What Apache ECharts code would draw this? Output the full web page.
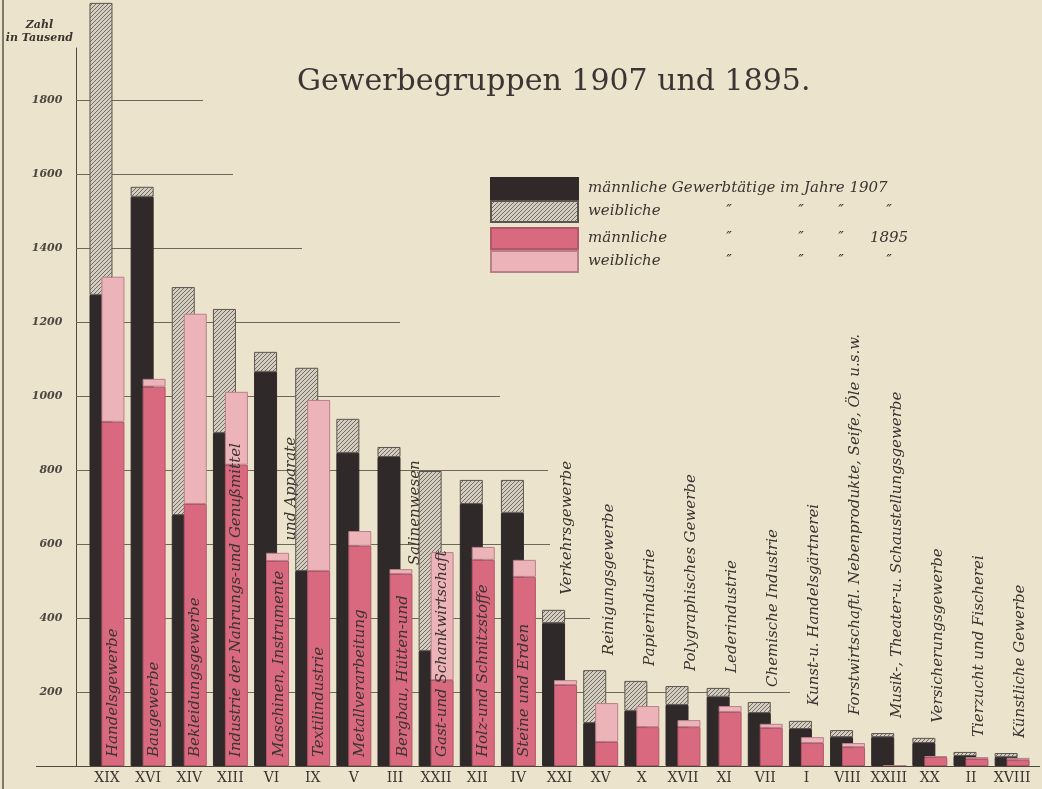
<!DOCTYPE html>
<html>
<head>
<meta charset="utf-8">
<title>Gewerbegruppen 1907 und 1895</title>
<script src="https://cdn.jsdelivr.net/npm/echarts@6/dist/echarts.min.js"></script>
<style>
  html, body { margin: 0; padding: 0; background: #ece3cc; }
  #chart { width: 1042px; height: 789px; }
</style>
</head>
<body>
<div id="chart"></div>
<script>
// Gewerbegruppen, Zahl der Gewerbtätigen in Tausend
var groups = ['XIX', 'XVI', 'XIV', 'XIII', 'VI', 'IX', 'V', 'III', 'XXII', 'XII', 'IV', 'XXI',
  'XV', 'X', 'XVII', 'XI', 'VII', 'I', 'VIII', 'XXIII', 'XX', 'II', 'XVIII'];
var groupNames = [
  'Handelsgewerbe', 'Baugewerbe', 'Bekleidungsgewerbe',
  'Industrie der Nahrungs-und Genußmittel', 'Maschinen, Instrumente\nund Apparate',
  'Textilindustrie', 'Metallverarbeitung', 'Bergbau, Hütten-und\nSalinenwesen',
  'Gast-und Schankwirtschaft', 'Holz-und Schnitzstoffe', 'Steine und Erden',
  'Verkehrsgewerbe', 'Reinigungsgewerbe', 'Papierindustrie', 'Polygraphisches Gewerbe',
  'Lederindustrie', 'Chemische Industrie', 'Kunst-u. Handelsgärtnerei',
  'Forstwirtschaftl. Nebenprodukte, Seife, Öle u.s.w.',
  'Musik-, Theater-u. Schaustellungsgewerbe', 'Versicherungsgewerbe',
  'Tierzucht und Fischerei', 'Künstliche Gewerbe'
];
var male1907   = [1273, 1538, 678, 900, 1065, 527, 846, 835, 311, 708, 684, 386, 116, 149, 165, 187, 143, 100, 78, 78, 62, 27, 24];
var female1907 = [789, 27, 616, 335, 54, 549, 92, 27, 486, 65, 89, 36, 143, 81, 51, 24, 30, 22, 19, 11, 14, 11, 11];
var male1895   = [930, 1025, 708, 814, 554, 527, 595, 519, 232, 557, 511, 219, 65, 105, 105, 146, 103, 62, 51, 0, 24, 19, 16];
var female1895 = [392, 21, 514, 197, 22, 462, 40, 13, 346, 35, 46, 13, 105, 57, 19, 16, 11, 16, 11, 0, 3, 5, 6];
var yTicks = [200, 400, 600, 800, 1000, 1200, 1400, 1600, 1800];

// how far each helper line runs to the right (px), one per tick
var gridEnds = [790, 590, 550, 548, 500, 400, 302, 233, 203];
// the first groups carry their name inside the pink bar, the rest above the bars
var insideCount = 11;

var ink = '#3a3330';
var scriptFont = 'DejaVu Serif';
var labelSize = 15;

function hatch() {
  var c = document.createElement('canvas');
  c.width = 4; c.height = 4;
  var ctx = c.getContext('2d');
  ctx.fillStyle = '#d4cec0';
  ctx.fillRect(0, 0, 4, 4);
  ctx.strokeStyle = '#726b62';
  ctx.lineWidth = 1;
  ctx.beginPath();
  ctx.moveTo(0, 4); ctx.lineTo(4, 0);
  ctx.moveTo(-1, 1); ctx.lineTo(1, -1);
  ctx.moveTo(3, 5); ctx.lineTo(5, 3);
  ctx.stroke();
  return c;
}

var measure = document.createElement('canvas').getContext('2d');
measure.font = 'italic ' + labelSize + 'px "' + scriptFont + '"';

// label offsets are in the rotated frame: [along the text, across it]
function nameLabel(i, inside) {
  var parts = groupNames[i].split('\n');
  var lbl = {
    show: true,
    rotate: 90,
    align: 'left',
    verticalAlign: 'middle',
    position: inside ? 'insideBottom' : 'top',
    distance: inside ? 9 : 15,
    offset: inside ? [0, 0] : [0, 14],
    fontFamily: scriptFont,
    fontStyle: 'italic',
    fontSize: labelSize,
    lineHeight: 12,
    color: ink
  };
  if (parts.length > 1) {
    lbl.formatter = '{t|' + parts[0] + '}\n{s| }{t|' + parts[1] + '}';
    lbl.rich = {
      t: { fontFamily: scriptFont, fontStyle: 'italic', fontSize: labelSize, lineHeight: 12, color: ink },
      s: { width: measure.measureText(parts[0]).width + 30, lineHeight: 12 }
    };
    lbl.offset = [0, 8];
  } else {
    lbl.formatter = groupNames[i];
  }
  return lbl;
}

var legendRows = {
  'männliche 1907': 'männliche Gewerbtätige im Jahre 1907',
  'weibliche 1907': '{a|weibliche}{d1|″}{d2|″}{d3|″}{d4|″}',
  'männliche 1895': '{a|männliche}{d1|″}{d2|″}{d3|″}{d4|1895}',
  'weibliche 1895': '{a|weibliche}{d1|″}{d2|″}{d3|″}{d4|″}'
};
var legendText = {
  fontFamily: scriptFont, fontStyle: 'italic', fontSize: 15, lineHeight: 21, color: ink,
  padding: [0, 0, 0, 5],
  rich: {
    a: { width: 91, fontFamily: scriptFont, fontStyle: 'italic', fontSize: 15, color: ink },
    d1: { width: 100, align: 'center', fontFamily: scriptFont, fontStyle: 'italic', fontSize: 15, color: ink },
    d2: { width: 44, align: 'center', fontFamily: scriptFont, fontStyle: 'italic', fontSize: 15, color: ink },
    d3: { width: 36, align: 'center', fontFamily: scriptFont, fontStyle: 'italic', fontSize: 15, color: ink },
    d4: { width: 60, align: 'center', fontFamily: scriptFont, fontStyle: 'italic', fontSize: 15, color: ink }
  }
};
function legendBlock(names, top) {
  return {
    data: names,
    orient: 'vertical',
    left: 490,
    top: top,
    padding: 0,
    icon: 'rect',
    itemWidth: 87,
    itemHeight: 21,
    itemGap: 0,
    selectedMode: false,
    formatter: function (n) { return legendRows[n]; },
    textStyle: legendText
  };
}

var chart = echarts.init(document.getElementById('chart'));
chart.setOption({
  backgroundColor: '#ece3cc',
  animation: false,
  title: {
    text: 'Gewerbegruppen 1907 und 1895.',
    left: 292,
    top: 62,
    textStyle: { fontFamily: 'DejaVu Serif', fontSize: 30, fontWeight: 'normal', color: '#3b3633' }
  },
  legend: [
    legendBlock(['männliche 1907', 'weibliche 1907'], 177),
    legendBlock(['männliche 1895', 'weibliche 1895'], 227)
  ],
  graphic: [{
    type: 'line',
    shape: { x1: 3, y1: 0, x2: 3, y2: 789 },
    style: { stroke: '#5d564b', lineWidth: 1.5 }
  }],
  grid: { left: 86.4, right: 9.3, top: 48, bottom: 23, containLabel: false, outerBoundsMode: 'none' },
  xAxis: {
    type: 'category',
    data: groups,
    axisLine: { show: false },
    axisTick: { show: false },
    splitLine: { show: false },
    axisLabel: { interval: 0, margin: 5, fontFamily: 'DejaVu Serif', fontSize: 14, color: ink }
  },
  yAxis: {
    type: 'value',
    min: 0,
    max: 1940,
    interval: 200,
    offset: 10,
    name: '{z|Zahl}\n{z|in Tausend}',
    nameLocation: 'end',
    nameGap: 3,
    nameMoveOverlap: false,
    nameTextStyle: {
      align: 'right',
      padding: [0, 3, 0, 0],
      rich: { z: { width: 68, align: 'center', fontFamily: scriptFont, fontStyle: 'italic', fontWeight: 'bold', fontSize: 11, lineHeight: 13, color: ink } }
    },
    axisLine: { show: true, lineStyle: { color: '#4e483f', width: 1 } },
    axisTick: { show: false },
    splitLine: { show: false },
    axisLabel: {
      customValues: yTicks,
      margin: 14,
      fontFamily: scriptFont,
      fontStyle: 'italic',
      fontWeight: 'bold',
      fontSize: 11,
      color: '#4d4742',
      formatter: function (v) { return yTicks.indexOf(v) >= 0 ? String(v) : ''; }
    }
  },
  series: [
    {
      name: 'männliche 1907',
      type: 'bar',
      stack: 'j1907',
      barWidth: 23,
      barGap: '-48%',
      clip: false,
      itemStyle: { color: '#2f292a', borderColor: '#2f292a', borderWidth: 1 },
      data: male1907,
      markLine: {
        silent: true,
        symbol: 'none',
        z: 1,
        label: { show: false },
        lineStyle: { color: '#6d665a', width: 1, type: 'solid' },
        data: yTicks.map(function (v, k) {
          return [{ x: 76, xAxis: groups[0], yAxis: v }, { x: gridEnds[k], xAxis: groups[0], yAxis: v }];
        })
      }
    },
    {
      name: 'weibliche 1907',
      type: 'bar',
      stack: 'j1907',
      barWidth: 23,
      clip: false,
      itemStyle: { color: { image: hatch(), repeat: 'repeat' }, borderColor: '#5a554f', borderWidth: 1 },
      data: female1907.map(function (v, i) {
        return i >= insideCount ? { value: v, label: nameLabel(i, false) } : v;
      })
    },
    {
      name: 'männliche 1895',
      type: 'bar',
      stack: 'j1895',
      barWidth: 23,
      clip: false,
      itemStyle: { color: '#d8697f', borderColor: '#b2566a', borderWidth: 1 },
      data: male1895.map(function (v, i) {
        return i < insideCount ? { value: v, label: nameLabel(i, true) } : v;
      })
    },
    {
      name: 'weibliche 1895',
      type: 'bar',
      stack: 'j1895',
      barWidth: 23,
      clip: false,
      itemStyle: { color: '#ecb3b9', borderColor: '#b8808a', borderWidth: 1 },
      data: female1895,
      markLine: {
        silent: true,
        symbol: 'none',
        label: { show: false },
        lineStyle: { color: '#4e483f', width: 1.2, type: 'solid' },
        data: [[{ x: 36, xAxis: groups[0], yAxis: 0 }, { x: 1040, xAxis: groups[0], yAxis: 0 }]]
      }
    }
  ]
});
</script>
</body>
</html>
